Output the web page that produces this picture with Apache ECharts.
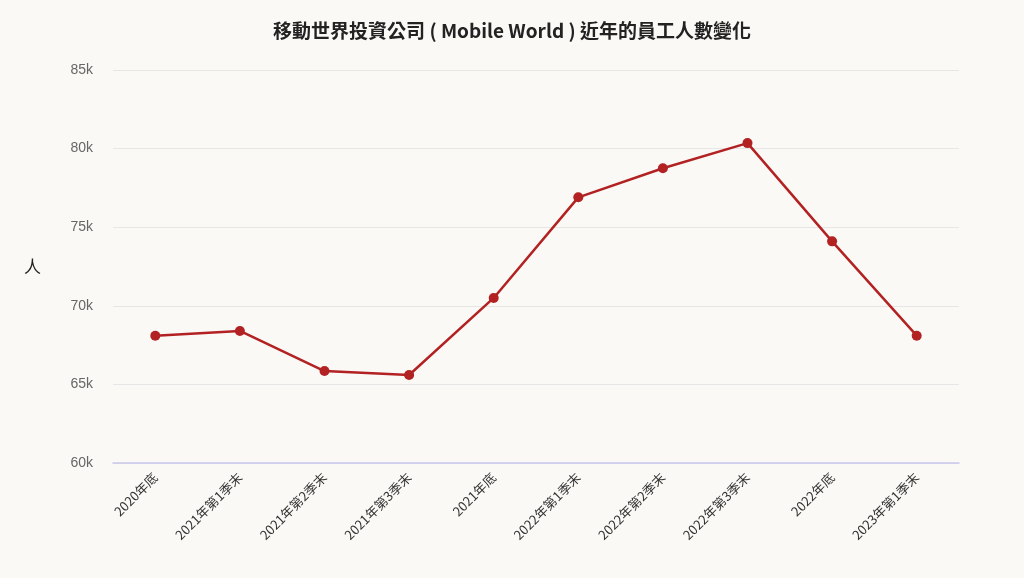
<!DOCTYPE html>
<html><head><meta charset="utf-8">
<script src="https://cdn.jsdelivr.net/npm/echarts@6/dist/echarts.min.js"></script>
<style>html,body{margin:0;padding:0;background:#fbf9f6;}#c{width:1024px;height:578px;}</style>
</head><body><div id="c"></div>
<script>
const categories = ["2020年底","2021年第1季末","2021年第2季末","2021年第3季末","2021年底","2022年第1季末","2022年第2季末","2022年第3季末","2022年底","2023年第1季末"];
const employees = [68100, 68400, 65850, 65600, 70500, 76900, 78750, 80350, 74100, 68100];
const yTicks = {min: 60000, max: 85000, interval: 5000};
const chart = echarts.init(document.getElementById('c'));
chart.setOption({
  backgroundColor: '#fbf9f6',
  title: {text: '移動世界投資公司 ( Mobile World ) 近年的員工人數變化', left: 'center', top: 16,
    textStyle: {fontSize: 19, fontWeight: 'bold', color: '#222', fontFamily: 'Noto Sans CJK TC'}},
  grid: {left: 113, right: 65, top: 70, bottom: 115},
  xAxis: {type: 'category', data: categories, boundaryGap: true,
    axisLine: {lineStyle: {color: '#c8c8ec', width: 1.5}}, axisTick: {show: false},
    axisLabel: {rotate: 45, fontSize: 13, color: '#333', fontFamily: 'Noto Sans CJK TC', interval: 0, margin: 12}},
  yAxis: {type: 'value', min: yTicks.min, max: yTicks.max, interval: yTicks.interval,
    name: '人', nameLocation: 'middle', nameGap: 72, nameRotate: 0,
    nameTextStyle: {fontSize: 17, color: '#222', fontFamily: 'Noto Sans CJK TC'},
    axisLabel: {color: '#666', fontSize: 14, margin: 20, formatter: v => (v/1000) + 'k'},
    splitLine: {lineStyle: {color: '#e6e6e6'}}},
  series: [{type: 'line', data: employees, symbol: 'circle', symbolSize: 10,
    lineStyle: {color: '#b22222', width: 2.5}, itemStyle: {color: '#b22222'}}]
});
</script></body></html>
